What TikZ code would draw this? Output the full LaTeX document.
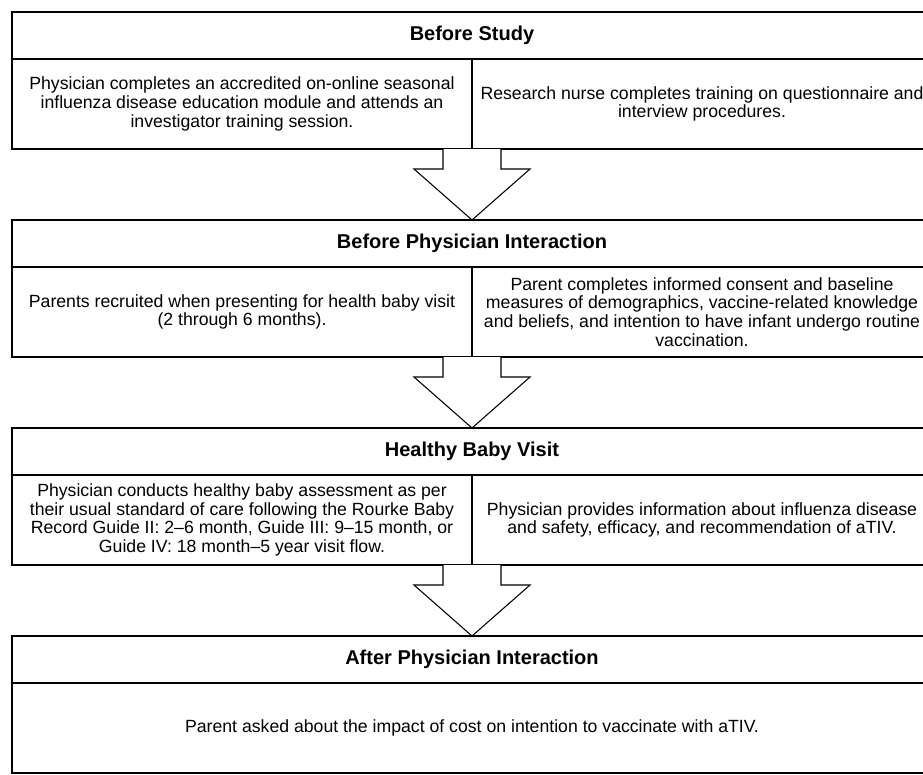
\documentclass[tikz,border=0pt]{standalone}
\usepackage{fontspec}
\setmainfont{Liberation Sans}
\usetikzlibrary{positioning, calc}

% block arrow from the bottom of one stage to the title of the next
\newcommand{\stagearrow}[2]{%
	\draw[fill=white] ($(#1)+(-21.75pt,0)$) |- ($(#1)+(-43.5pt,-15pt)$) -- (#2) -- ($(#1)+(43.5pt,-15pt)$) -| ($(#1)+(21.75pt,0)$);
}

\begin{document}
\begin{tikzpicture}[
	line width=0.8pt,
	every node/.style={outer sep=0pt, inner sep=0pt},
	stagetitle/.style={draw, minimum width=690pt, minimum height=35.25pt, font=\fontsize{15}{17}\selectfont\bfseries},
	stagecell/.style={draw, minimum width=345pt, minimum height=67.5pt, align=center, font=\fontsize{13.25}{14}\selectfont},
	widecell/.style={stagecell, minimum width=690pt}
	]
	\useasboundingbox (0,0) rectangle (692.25pt,-580.5pt);
	\clip (0,0) rectangle (692.25pt,-580.5pt);
	% Stages:
	\node[stagetitle, anchor=north west] (before) at (9pt,-9pt) {Before Study};
	\node[stagecell, anchor=north west] (beforeL) at (before.south west) {Physician completes an accredited on-online seasonal\\influenza disease education module and attends an\\investigator training session.};
	\node[stagecell, anchor=north west] (beforeR) at (beforeL.north east) {Research nurse completes training on questionnaire and\\interview procedures.};

	\node[stagetitle, below=53.25pt of beforeL.south east] (prior) {Before Physician Interaction};
	\node[stagecell, anchor=north west] (priorL) at (prior.south west) {Parents recruited when presenting for health baby visit\\(2 through 6 months).};
	\node[stagecell, anchor=north west] (priorR) at (priorL.north east) {Parent completes informed consent and baseline\\measures of demographics, vaccine-related knowledge\\and beliefs, and intention to have infant undergo routine\\vaccination.};

	\node[stagetitle, below=53.25pt of priorL.south east] (visit) {Healthy Baby Visit};
	\node[stagecell, anchor=north west] (visitL) at (visit.south west) {Physician conducts healthy baby assessment as per\\their usual standard of care following the Rourke Baby\\Record Guide II: 2--6 month, Guide III: 9--15 month, or\\Guide IV: 18 month--5 year visit flow.};
	\node[stagecell, anchor=north west] (visitR) at (visitL.north east) {Physician provides information about influenza disease\\and safety, efficacy, and recommendation of aTIV.};

	\node[stagetitle, below=53.25pt of visitL.south east] (after) {After Physician Interaction};
	\node[widecell, anchor=north] (afterC) at (after.south) {Parent asked about the impact of cost on intention to vaccinate with aTIV.};

	% Arrows:
	\stagearrow{beforeL.south east}{prior.north}
	\stagearrow{priorL.south east}{visit.north}
	\stagearrow{visitL.south east}{after.north}
\end{tikzpicture}
\end{document}
